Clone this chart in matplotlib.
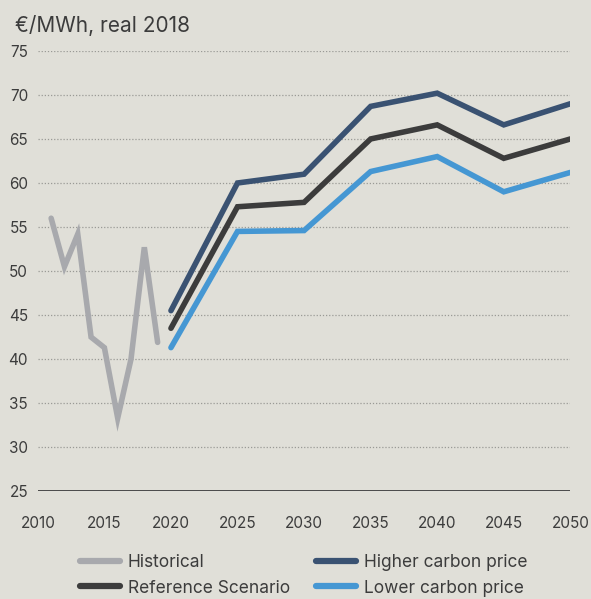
import matplotlib.pyplot as plt
from matplotlib.lines import Line2D

plt.rcParams['font.family'] = ['Inter', 'DejaVu Sans']

bg = '#e0dfd8'
txt = '#3c3c3c'

hist_years = [2011, 2012, 2013, 2014, 2015, 2016, 2017, 2018, 2019]
historical = [56.0, 50.5, 54.2, 42.5, 41.3, 33.3, 40.0, 52.7, 41.9]

proj_years = [2020, 2025, 2030, 2035, 2040, 2045, 2050]
higher = [45.5, 60.0, 61.0, 68.7, 70.2, 66.6, 69.0]
reference = [43.5, 57.3, 57.8, 65.0, 66.6, 62.8, 65.0]
lower = [41.3, 54.5, 54.6, 61.3, 63.0, 59.0, 61.2]

x_ticks = [2010, 2015, 2020, 2025, 2030, 2035, 2040, 2045, 2050]
y_ticks = [25, 30, 35, 40, 45, 50, 55, 60, 65, 70, 75]

fig = plt.figure(figsize=(5.91, 5.99), dpi=100, facecolor=bg)
ax = fig.add_axes([0.064, 0.18, 0.901, 0.735], facecolor=bg)

for y in y_ticks[1:]:
    ax.axhline(y, color='#9a9a96', lw=0.9, ls=(0, (1, 1.5)), zorder=1)
ax.axhline(25, color=txt, lw=2, zorder=2)

lw = 4
ax.plot(hist_years, historical, color='#a8a9ad', lw=lw, solid_capstyle='round', solid_joinstyle='miter', zorder=3)
ax.plot(proj_years, higher, color='#3a5272', lw=lw, solid_capstyle='round', solid_joinstyle='miter', zorder=3)
ax.plot(proj_years, reference, color='#3c3c3c', lw=lw, solid_capstyle='round', solid_joinstyle='miter', zorder=3)
ax.plot(proj_years, lower, color='#4597d3', lw=lw, solid_capstyle='round', solid_joinstyle='miter', zorder=3)

ax.set_xlim(2010, 2050)
ax.set_ylim(25, 75)
ax.set_xticks(x_ticks)
ax.set_yticks(y_ticks)
ax.tick_params(length=0, labelsize=11, colors=txt)
ax.tick_params(axis='x', pad=18)
ax.tick_params(axis='y', pad=7)
for s in ax.spines.values():
    s.set_visible(False)

fig.text(0.025, 0.957, '€/MWh, real 2018', fontsize=15, color=txt, va='center')

handles = [
    Line2D([], [], color='#a8a9ad', lw=4.5, solid_capstyle='round'),
    Line2D([], [], color='#3c3c3c', lw=4.5, solid_capstyle='round'),
    Line2D([], [], color='#3a5272', lw=4.5, solid_capstyle='round'),
    Line2D([], [], color='#4597d3', lw=4.5, solid_capstyle='round'),
]
labels = ['Historical', 'Reference Scenario', 'Higher carbon price', 'Lower carbon price']
leg = fig.legend(handles, labels, ncol=2, loc='lower center', bbox_to_anchor=(0.514, -0.022),
                 frameon=False, fontsize=12.5, handlelength=2.3, handletextpad=0.45,
                 columnspacing=1.5, labelspacing=0.5, labelcolor=txt)

fig.savefig('out.png', dpi=100, facecolor=bg)
